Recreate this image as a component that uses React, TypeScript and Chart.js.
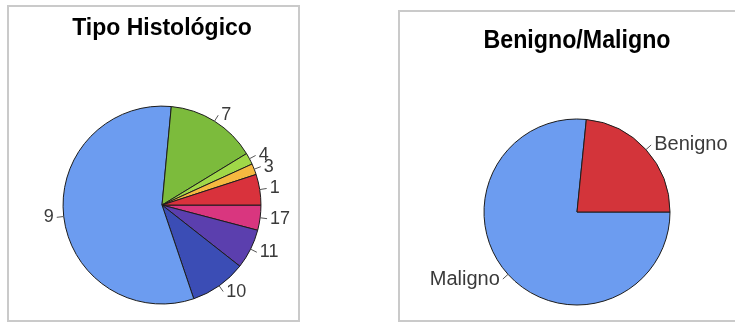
import React, { useEffect, useRef } from "react";
import { Chart, registerables } from "chart.js";

Chart.register(...registerables);

// Tipo Histológico — slices listed clockwise from 3 o'clock (percent of total)
const histLabels = ["17", "11", "10", "9", "7", "4", "3", "1"];
const histValues = [4.1, 6.5, 9.2, 56.7, 14.8, 1.9, 1.8, 5.0];
const histColors = ["#d9367f", "#5b3fae", "#3b4db5", "#6c9cf0", "#7cbb3c", "#a0d848", "#f5b840", "#d9323c"];

// Benigno/Maligno — clockwise from 3 o'clock (percent of total)
const bmLabels = ["Maligno", "Benigno"];
const bmValues = [76.6, 23.4];
const bmColors = ["#6c9cf0", "#d3343a"];

const FONT = '"Liberation Sans", Arial, Helvetica, sans-serif';

const pieLabelPlugin = {
  id: "pieLabels",
  afterDatasetsDraw(chart: any, _args: any, opts: any) {
    const { ctx } = chart;
    const meta = chart.getDatasetMeta(0);
    const labels = chart.data.labels as string[];
    ctx.save();
    ctx.font = `${opts.size}px ${FONT}`;
    ctx.fillStyle = opts.color;
    ctx.strokeStyle = opts.lineColor;
    ctx.lineWidth = 1;
    ctx.textBaseline = "middle";
    meta.data.forEach((arc: any, i: number) => {
      const { x, y, startAngle, endAngle, outerRadius } = arc.getProps(
        ["x", "y", "startAngle", "endAngle", "outerRadius"],
        true
      );
      const mid = (startAngle + endAngle) / 2;
      const c = Math.cos(mid);
      const s = Math.sin(mid);
      const r1 = outerRadius;
      const r2 = outerRadius + opts.lineLen;
      ctx.beginPath();
      ctx.moveTo(x + c * r1, y + s * r1);
      ctx.lineTo(x + c * r2, y + s * r2);
      ctx.stroke();
      const tx = x + c * r2 + (c >= 0 ? opts.gap : -opts.gap);
      const ty = y + s * r2;
      ctx.textAlign = c >= 0 ? "left" : "right";
      ctx.fillText(labels[i], tx, ty);
    });
    ctx.restore();
  },
};

function makeConfig(
  labels: string[],
  values: number[],
  colors: string[],
  title: string,
  titleSize: number,
  titlePadTop: number,
  titlePadBottom: number,
  padding: { left: number; right: number; top: number; bottom: number },
  labelSize: number
): any {
  return {
    type: "pie",
    data: {
      labels,
      datasets: [
        {
          data: values,
          backgroundColor: colors,
          borderColor: "#1c1c1c",
          borderWidth: 1,
        },
      ],
    },
    options: {
      responsive: false,
      animation: false,
      rotation: 90,
      layout: { padding },
      plugins: {
        legend: { display: false },
        tooltip: { enabled: false },
        title: {
          display: true,
          text: title,
          color: "#000000",
          font: { family: FONT, size: titleSize, weight: "bold", lineHeight: 1.2 },
          padding: { top: titlePadTop, bottom: titlePadBottom },
        },
        pieLabels: { size: labelSize, color: "#3a3a3a", lineColor: "#555555", lineLen: 7, gap: 3 },
      },
    },
    plugins: [pieLabelPlugin],
  };
}

export default function App() {
  const ref1 = useRef<HTMLCanvasElement>(null);
  const ref2 = useRef<HTMLCanvasElement>(null);

  useEffect(() => {
    const c1 = new Chart(
      ref1.current!,
      makeConfig(
        histLabels,
        histValues,
        histColors,
        "Tipo Histológico",
        23,
        7.5,
        63.5,
        { left: 52.5, right: 34.5, top: 0, bottom: 13.5 },
        18
      )
    );
    const c2 = new Chart(
      ref2.current!,
      makeConfig(
        bmLabels,
        bmValues,
        bmColors,
        "Benigno/Maligno",
        25,
        13,
        62.5,
        { left: 82.5, right: 64.5, top: 0, bottom: 13.5 },
        20
      )
    );
    return () => {
      c1.destroy();
      c2.destroy();
    };
  }, []);

  return (
    <div
      style={{
        position: "absolute",
        left: 0,
        top: 0,
        width: 735,
        height: 322,
        background: "#ffffff",
        overflow: "hidden",
      }}
    >
      <div
        style={{
          position: "absolute",
          left: 7,
          top: 5,
          width: 289,
          height: 313,
          border: "2px solid #cacaca",
        }}
      />
      <div
        style={{
          position: "absolute",
          left: 398,
          top: 10,
          width: 500,
          height: 308,
          borderTop: "2px solid #cacaca",
          borderLeft: "2px solid #cacaca",
          borderBottom: "2px solid #cacaca",
        }}
      />
      <canvas
        ref={ref1}
        width={286}
        height={311}
        style={{ position: "absolute", left: 10, top: 7, width: 286, height: 311 }}
      />
      <canvas
        ref={ref2}
        width={334}
        height={306}
        style={{ position: "absolute", left: 401, top: 13, width: 334, height: 306 }}
      />
    </div>
  );
}
